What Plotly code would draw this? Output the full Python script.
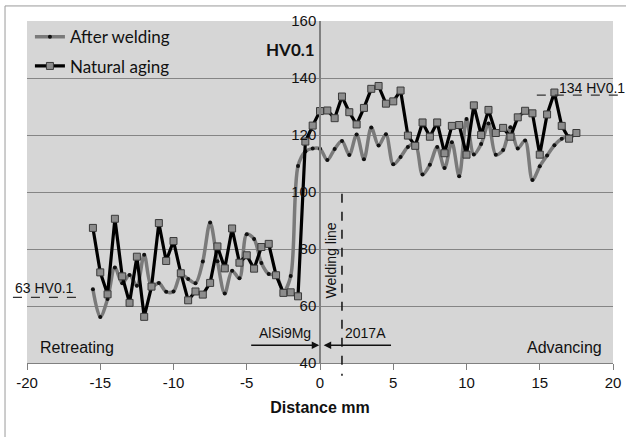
import plotly.graph_objects as go

# ---- data ----
x_aging = [-15.5, -15.0, -14.5, -14.0, -13.5, -13.0, -12.5, -12.0, -11.5, -11.0,
           -10.5, -10.0, -9.5, -9.0, -8.5, -8.0, -7.5, -7.0, -6.5, -6.0,
           -5.5, -5.0, -4.5, -4.0, -3.5, -3.0, -2.5, -2.0, -1.5, -1.0,
           -0.5, 0.0, 0.5, 1.0, 1.5, 2.0, 2.5, 3.0, 3.5, 4.0,
           4.5, 5.0, 5.5, 6.0, 6.5, 7.0, 7.5, 8.0, 8.5, 9.0,
           9.5, 10.0, 10.5, 11.0, 11.5, 12.0, 12.5, 13.0, 13.5, 14.0,
           14.5, 15.0, 15.5, 16.0, 16.5, 17.0, 17.5]
hv_aging = [87.4, 71.8, 64.1, 90.6, 70.4, 61.1, 77.3, 56.2, 66.8, 89.1,
            75.8, 82.8, 71.5, 62.0, 65.1, 64.0, 68.1, 80.9, 73.2, 87.2,
            75.2, 77.8, 73.1, 80.7, 81.8, 70.8, 64.6, 64.8, 63.4, 117.7,
            123.3, 128.4, 128.6, 125.9, 133.5, 128.0, 123.7, 129.5, 136.2, 137.2,
            131.0, 131.8, 135.6, 119.8, 116.2, 124.4, 119.4, 124.4, 113.6, 123.2,
            123.5, 113.1, 130.4, 120.0, 128.8, 120.7, 122.5, 119.4, 126.2, 128.5,
            127.6, 113.1, 127.2, 134.9, 123.2, 118.7, 120.7]

x_weld = [-15.5, -15.0, -14.5, -14.0, -13.5, -13.0, -12.5, -12.0, -11.5, -11.0,
          -10.5, -10.0, -9.5, -9.0, -8.5, -8.0, -7.5, -7.0, -6.5, -6.0,
          -5.5, -5.0, -4.5, -4.0, -3.5, -3.0, -2.5, -2.0, -1.5, -1.0,
          -0.5, 0.0, 0.5, 1.0, 1.5, 2.0, 2.5, 3.0, 3.5, 4.0,
          4.5, 5.0, 5.5, 6.0, 6.5, 7.0, 7.5, 8.0, 8.5, 9.0,
          9.5, 10.0, 10.5, 11.0, 11.5, 12.0, 12.5, 13.0, 13.5, 14.0,
          14.5, 15.0, 15.5, 16.0, 16.5, 17.0]
hv_weld = [65.9, 56.1, 62.5, 73.5, 68.0, 70.9, 67.1, 78.0, 66.8, 68.1,
           65.0, 65.1, 71.0, 69.5, 68.0, 75.6, 89.3, 75.7, 64.4, 72.4,
           69.7, 85.2, 83.5, 75.1, 71.2, 70.9, 64.9, 70.5, 109.1, 114.2,
           115.3, 115.2, 111.2, 115.1, 117.9, 113.0, 120.2, 111.5, 122.6, 116.3,
           120.3, 109.7, 112.3, 115.8, 117.0, 106.1, 109.6, 115.8, 108.4, 117.5,
           105.5, 125.6, 113.2, 116.8, 124.0, 113.1, 114.7, 122.7, 115.3, 118.1,
           104.2, 109.0, 112.8, 116.4, 118.7, 119.6]

x_ticks = [-20, -15, -10, -5, 0, 5, 10, 15, 20]
x_tick_text = ["-20", "-15", "-10", "-5", "0", "5", "10", "15", "20"]
y_ticks = [40, 60, 80, 100, 120, 140, 160]

series_names = ["After welding", "Natural aging"]
min_label = "63 HV0.1"
max_label = "134 HV0.1"
min_val = 63
max_val = 134
weld_line_x = 1.5

FONT = "Liberation Sans, Arial, sans-serif"
CAL = "Lato, Liberation Sans, sans-serif"

fig = go.Figure()
fig.add_trace(go.Scatter(
    x=x_weld, y=hv_weld, name=series_names[0], mode="lines+markers",
    line=dict(color="#7a7a7a", width=3.5, shape="spline", smoothing=0.9),
    marker=dict(symbol="circle", size=4, color="#111111"),
    legendgroup="a",
))
fig.add_trace(go.Scatter(
    x=x_aging, y=hv_aging, name=series_names[1], mode="lines+markers",
    line=dict(color="#000000", width=3.2),
    marker=dict(symbol="square", size=7, color="#8c8c8c",
                line=dict(color="#3a3a3a", width=1)),
    legendgroup="b",
))

ann = []
ann.append(dict(x=0, y=150, xref="x", yref="y", text="<b>HV0.1</b>", showarrow=False,
                xanchor="right", xshift=-3, font=dict(family=CAL, size=17, color="#111")))
ann.append(dict(x=0.75, y=76, xref="x", yref="y", text="Welding line", textangle=-90,
                showarrow=False, font=dict(family=FONT, size=14, color="#111")))
ann.append(dict(x=-2.4, y=50.5, xref="x", yref="y", text="AlSi9Mg", showarrow=False,
                font=dict(family=FONT, size=14, color="#111")))
ann.append(dict(x=3.1, y=50.5, xref="x", yref="y", text="2017A", showarrow=False,
                font=dict(family=FONT, size=14, color="#111")))
ann.append(dict(x=-0.05, y=46.2, ax=-4.8, ay=46.2, xref="x", yref="y", axref="x", ayref="y",
                text="", showarrow=True, arrowhead=2, arrowsize=1, arrowwidth=1.5,
                arrowcolor="#111"))
ann.append(dict(x=0.25, y=46.2, ax=4.95, ay=46.2, xref="x", yref="y", axref="x", ayref="y",
                text="", showarrow=True, arrowhead=2, arrowsize=1, arrowwidth=1.5,
                arrowcolor="#111"))
ann.append(dict(x=-16.6, y=45.6, xref="x", yref="y", text="Retreating", showarrow=False,
                font=dict(family=FONT, size=16, color="#111")))
ann.append(dict(x=16.7, y=45.6, xref="x", yref="y", text="Advancing", showarrow=False,
                font=dict(family=FONT, size=16, color="#111")))
ann.append(dict(x=-0.024, y=min_val, xref="paper", yref="y", text=min_label, showarrow=False,
                xanchor="left", yanchor="bottom", yshift=-1,
                font=dict(family=FONT, size=14, color="#111")))
ann.append(dict(x=0.905, y=max_val, xref="paper", yref="y", text=max_label, showarrow=False,
                xanchor="left", yanchor="bottom", yshift=-3,
                font=dict(family=FONT, size=14, color="#111")))

shapes = [
    # outer frame
    dict(type="rect", xref="paper", yref="paper", x0=-0.0375, x1=1.2, y0=-0.4, y1=1.044,
         line=dict(color="#9a9a9a", width=1), layer="below"),
    # welding line
    dict(type="line", xref="paper", yref="paper",
         x0=(weld_line_x + 20) / 40, x1=(weld_line_x + 20) / 40, y0=0.495, y1=-0.037,
         line=dict(color="#111", width=1.5, dash="dash")),
    # min / max marker dashes
    dict(type="line", xref="paper", yref="paper", x0=-0.024, x1=0.095,
         y0=(min_val - 40) / 120, y1=(min_val - 40) / 120,
         line=dict(color="#333", width=1.2, dash="dash")),
    dict(type="line", xref="paper", yref="paper", x0=0.87, x1=1.03,
         y0=(max_val - 40) / 120, y1=(max_val - 40) / 120,
         line=dict(color="#333", width=1.2, dash="dash")),
]

fig.update_layout(
    width=626, height=437, autosize=False,
    margin=dict(l=27, r=13, t=21, b=74),
    paper_bgcolor="white", plot_bgcolor="#d6d6d6",
    showlegend=True,
    legend=dict(x=0.005, y=1.005, xanchor="left", yanchor="top",
                bgcolor="rgba(0,0,0,0)", font=dict(family=CAL, size=17, color="#111"),
                tracegroupgap=4, itemwidth=30),
    annotations=ann, shapes=shapes,
    xaxis=dict(range=[-20, 20], tickvals=x_ticks, ticktext=x_tick_text,
               ticks="outside", ticklen=6, automargin=False,
               tickcolor="#808080", showline=True, linecolor="#808080", linewidth=1,
               showgrid=False, zeroline=False,
               tickfont=dict(family=FONT, size=15, color="#111"),
               title=dict(text="<b>Distance mm</b>", standoff=11,
                          font=dict(family=FONT, size=16, color="#111"))),
    yaxis=dict(range=[40, 160], tickvals=y_ticks, anchor="free", position=0.5,
               automargin=False,
               showline=True, linecolor="#808080", linewidth=1.5,
               showgrid=True, gridcolor="#858585", gridwidth=1, zeroline=False,
               ticks="", tickfont=dict(family=FONT, size=15, color="#111")),
)

fig.write_html("out.html", config={"displayModeBar": False},
               post_script="document.body.style.margin='0px';document.body.style.overflow='hidden';")
